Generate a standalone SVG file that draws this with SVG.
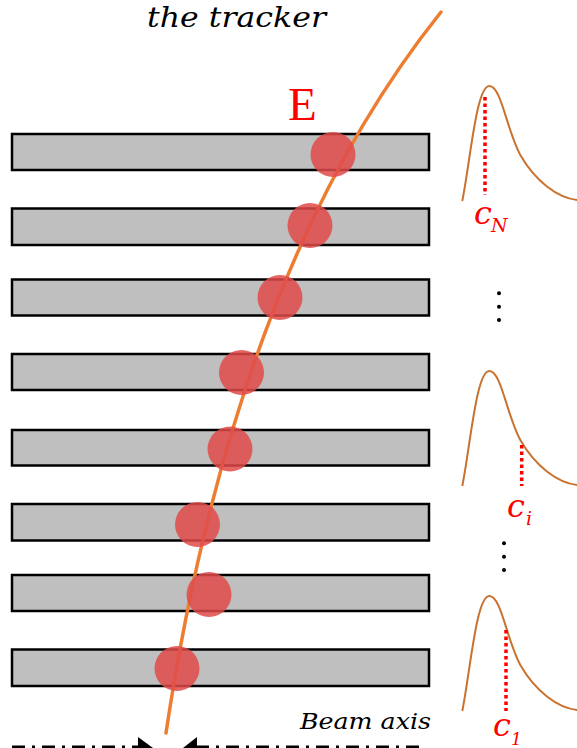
<svg xmlns="http://www.w3.org/2000/svg" width="577" height="748" viewBox="0 0 577 748">
<defs>
<style>
.bar{fill:#bfbfbf;stroke:#000;stroke-width:2.5}
.hit{fill:#e04a4a;fill-opacity:0.85}
.track{fill:none;stroke:#ed7d31;stroke-width:3.5;stroke-linecap:round}
.dist{fill:none;stroke:#c9722f;stroke-width:2}
.cut{stroke:#ff0000;stroke-width:3.5;stroke-dasharray:3.5 3}
.serif{font-family:"Liberation Serif",serif}
.it{font-family:"DejaVu Serif","Liberation Serif",serif;font-style:italic}
.lbl{fill:#ff0000}
.dot{fill:#000}
.beam{stroke:#000;stroke-width:5;stroke-dasharray:13 7 3 7}
</style>
<path id="landau" d="M0,0 C8,-40 14,-115 27,-115 C39,-115 44,-72 58,-46 C73,-20 95,-3 115,-1"/>
</defs>
<text class="it" x="147" y="27" font-size="28" textLength="179" lengthAdjust="spacingAndGlyphs" fill="#000">the tracker</text>
<text class="serif" x="288" y="120" font-size="47" fill="#ff0000">E</text>
<g id="bars">
<rect id="bar8" class="bar" x="12" y="134" width="417" height="36"/>
<rect id="bar7" class="bar" x="12" y="208.5" width="417" height="36.5"/>
<rect id="bar6" class="bar" x="12" y="279.5" width="417" height="36"/>
<rect id="bar5" class="bar" x="12" y="354" width="417" height="36"/>
<rect id="bar4" class="bar" x="12" y="430" width="417" height="35.5"/>
<rect id="bar3" class="bar" x="12" y="504" width="417" height="36.5"/>
<rect id="bar2" class="bar" x="12" y="575" width="417" height="36"/>
<rect id="bar1" class="bar" x="12" y="649.5" width="417" height="36.5"/>
</g>
<g id="connectors">
<path id="track" class="track" d="M441,12 Q235.7,268.6 166,733"/>
</g>
<g id="hits">
<circle class="hit" cx="333" cy="154.5" r="22.5"/>
<circle class="hit" cx="310" cy="225.5" r="22.5"/>
<circle class="hit" cx="280" cy="297.5" r="22.5"/>
<circle class="hit" cx="241.5" cy="372.5" r="22.5"/>
<circle class="hit" cx="230" cy="449" r="22.5"/>
<circle class="hit" cx="197.5" cy="524.5" r="22.5"/>
<circle class="hit" cx="209" cy="594.5" r="22.5"/>
<circle class="hit" cx="177" cy="668.5" r="22.5"/>
</g>
<g id="distN">
<use href="#landau" class="dist" transform="translate(462.3,201)"/>
<line class="cut" x1="485" y1="97" x2="485" y2="195"/>
<text class="it lbl" x="474" y="224" font-size="32">c</text>
<text class="it lbl" x="491" y="232" font-size="19">N</text>
</g>
<g id="dotsTop">
<circle class="dot" cx="499" cy="293.3" r="2"/>
<circle class="dot" cx="499" cy="306.7" r="2"/>
<circle class="dot" cx="499" cy="320" r="2"/>
</g>
<g id="distI">
<use href="#landau" class="dist" transform="translate(462.3,486)"/>
<line class="cut" x1="521.7" y1="445" x2="521.7" y2="486"/>
<text class="it lbl" x="507" y="517" font-size="32">c</text>
<text class="it lbl" x="526" y="525" font-size="19">i</text>
</g>
<g id="dotsBottom">
<circle class="dot" cx="504" cy="543.3" r="2"/>
<circle class="dot" cx="504" cy="556.7" r="2"/>
<circle class="dot" cx="504" cy="570" r="2"/>
</g>
<g id="dist1">
<use href="#landau" class="dist" transform="translate(462.3,711)"/>
<line class="cut" x1="506" y1="630" x2="506" y2="711"/>
<text class="it lbl" x="493" y="736" font-size="32">c</text>
<text class="it lbl" x="511" y="745" font-size="17">1</text>
</g>
<g id="beam">
<text class="it" x="300" y="729" font-size="22" textLength="131" lengthAdjust="spacingAndGlyphs" fill="#000">Beam axis</text>
<line class="beam" x1="12" y1="748" x2="140" y2="748"/>
<polygon points="138,737 153,748 138,759" fill="#000"/>
<line class="beam" x1="196" y1="748" x2="425" y2="748"/>
<polygon points="183,748 197,737 197,759" fill="#000"/>
</g>
</svg>
